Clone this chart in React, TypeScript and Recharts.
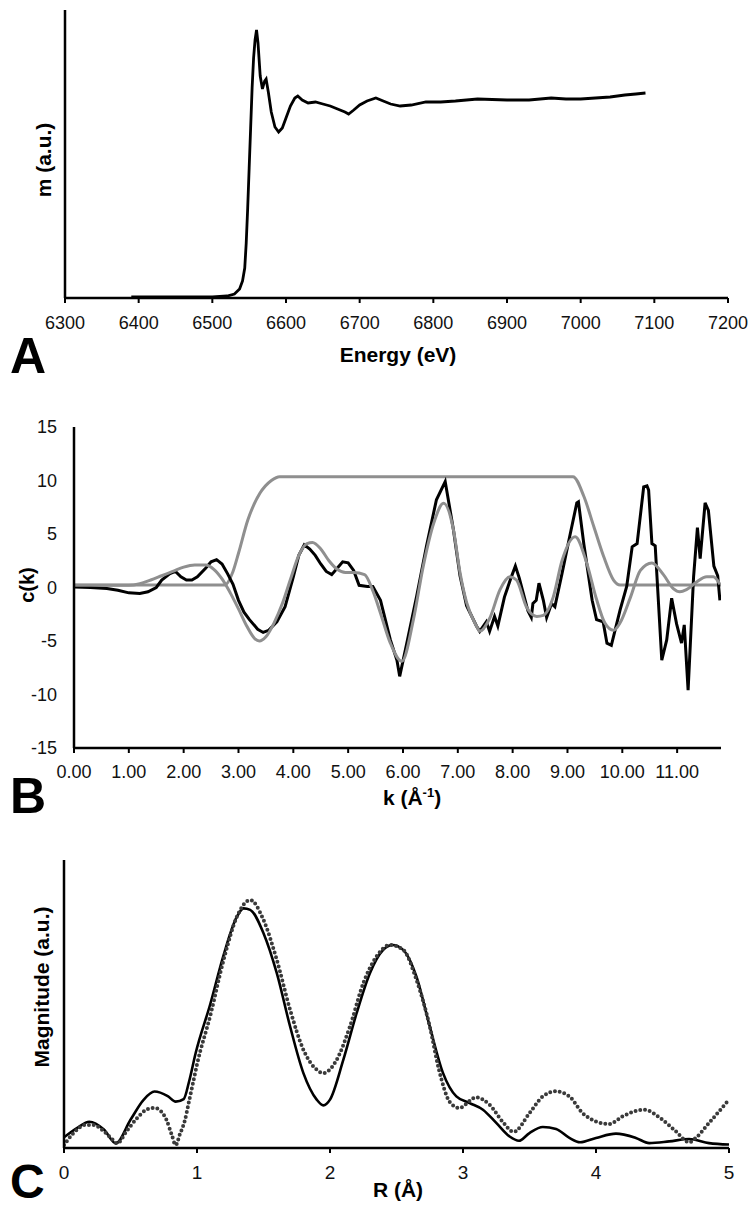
import React from 'react';
import { LineChart, Line, XAxis, YAxis } from 'recharts';

// ---------- Panel A: XANES / absorption ----------
const energyA = [6390, 6450, 6500, 6520, 6530, 6537, 6541, 6544, 6546, 6548, 6550, 6552, 6554, 6556, 6558, 6560, 6562, 6565, 6568, 6571, 6573, 6576, 6580, 6585, 6590, 6595, 6600, 6606, 6612, 6616, 6622, 6630, 6640, 6650, 6660, 6670, 6680, 6685, 6692, 6700, 6710, 6722, 6732, 6742, 6755, 6770, 6790, 6810, 6830, 6860, 6900, 6930, 6960, 6980, 7000, 7020, 7040, 7060, 7075, 7088];
const muA = [1, 1, 1, 2, 4, 9, 17, 30, 55, 90, 130, 170, 210, 240, 258, 268, 255, 222, 209, 217, 219, 206, 186, 171, 166, 170, 180, 192, 200, 202, 198, 195, 196, 194, 192, 189, 186, 184, 188, 193, 197, 200, 197, 194, 192, 193, 196, 196, 197, 199, 198, 198, 200, 199, 199, 200, 201, 203, 204, 205];
const energyTicks = [6300, 6400, 6500, 6600, 6700, 6800, 6900, 7000, 7100, 7200];

// ---------- Panel B: chi(k) ----------
const kExp = [0, 0.3, 0.6, 0.8, 1.0, 1.2, 1.35, 1.5, 1.6, 1.75, 1.85, 1.95, 2.05, 2.15, 2.25, 2.4, 2.5, 2.6, 2.7, 2.8, 2.9, 3.0, 3.1, 3.2, 3.35, 3.45, 3.55, 3.7, 3.85, 4.0, 4.1, 4.2, 4.3, 4.4, 4.5, 4.6, 4.7, 4.8, 4.9, 5.0, 5.1, 5.2, 5.35, 5.45, 5.59, 5.77, 5.89, 5.94, 6.07, 6.25, 6.43, 6.61, 6.77, 6.92, 7.04, 7.16, 7.34, 7.4, 7.52, 7.58, 7.67, 7.73, 7.85, 7.97, 8.05, 8.12, 8.28, 8.34, 8.37, 8.43, 8.48, 8.56, 8.62, 8.71, 8.77, 8.9, 9.05, 9.17, 9.2, 9.3, 9.45, 9.53, 9.65, 9.72, 9.8, 9.96, 10.08, 10.18, 10.27, 10.39, 10.45, 10.48, 10.54, 10.6, 10.72, 10.81, 10.9, 10.99, 11.08, 11.13, 11.2, 11.3, 11.37, 11.42, 11.51, 11.57, 11.67, 11.74, 11.78];
const chiExp = [0.05, 0.0, -0.1, -0.25, -0.5, -0.55, -0.4, 0.0, 0.7, 1.3, 1.5, 1.0, 0.7, 0.7, 1.0, 1.8, 2.4, 2.6, 2.2, 1.3, 0.3, -1.2, -2.3, -3.0, -3.9, -4.2, -4.0, -3.2, -1.8, 1.0, 3.0, 4.0, 3.6, 3.0, 2.2, 1.5, 1.2, 1.8, 2.4, 2.3, 1.6, 0.2, 0.1, 0.1, -1.2, -4.9, -6.8, -8.3, -5.2, -0.8, 3.9, 8.2, 9.9, 5.4, 1.1, -1.7, -3.6, -4.1, -3.2, -4.1, -2.7, -3.6, -0.9, 0.9, 2.0, 0.9, -2.2, -2.8, -1.5, -1.2, 0.4, -1.2, -2.8, -1.5, -1.8, 1.3, 5.0, 7.9, 8.0, 4.0, -1.2, -3.0, -3.2, -5.2, -5.4, -2.1, 0.1, 3.8, 4.1, 9.4, 9.5, 9.1, 4.1, 3.9, -6.8, -4.9, -1.0, -3.4, -5.2, -3.5, -9.6, 1.0, 5.6, 2.7, 7.9, 7.2, 2.0, 1.1, -1.2];
const kFit = [0, 0.5, 1.0, 1.2, 1.4, 1.6, 1.8, 2.0, 2.2, 2.4, 2.55, 2.7, 2.85, 3.0, 3.15, 3.3, 3.38, 3.5, 3.65, 3.8, 3.95, 4.1, 4.25, 4.35, 4.5, 4.65, 4.8, 4.95, 5.1, 5.3, 5.45, 5.59, 5.77, 5.98, 6.19, 6.37, 6.56, 6.74, 6.92, 7.04, 7.16, 7.34, 7.4, 7.58, 7.77, 7.95, 8.07, 8.25, 8.44, 8.56, 8.74, 8.9, 9.14, 9.35, 9.53, 9.68, 9.84, 9.96, 10.15, 10.33, 10.54, 10.75, 10.93, 11.05, 11.17, 11.35, 11.54, 11.66, 11.78];
const chiFit = [0.2, 0.2, 0.2, 0.35, 0.7, 1.1, 1.5, 1.9, 2.1, 2.1, 1.7, 0.8, -0.5, -2.0, -3.6, -4.8, -5.0, -4.6, -3.3, -1.5, 0.8, 3.0, 4.1, 4.2, 3.6, 2.5, 1.7, 1.4, 1.4, 1.2, -0.3, -2.4, -5.2, -6.9, -3.0, 2.0, 6.0, 7.87, 5.4, 1.4, -1.4, -3.6, -4.1, -2.9, -0.2, 1.0, 0.7, -1.8, -2.7, -2.6, -0.9, 2.5, 4.75, 2.3, -1.1, -3.3, -4.0, -3.3, -0.9, 1.6, 2.3, 1.2, -0.1, -0.4, -0.2, 0.5, 1.0, 1.0, 0.3];
const kWin = [0, 2.75, 2.9, 3.0, 3.17, 3.39, 3.6, 3.75, 9.1, 9.3, 9.48, 9.66, 9.84, 9.96, 11.8];
const winB = [0.23, 0.23, 1.5, 3.2, 6.3, 8.8, 10.0, 10.36, 10.36, 8.5, 5.7, 2.9, 0.7, 0.23, 0.23];
const kTicks = [0, 1, 2, 3, 4, 5, 6, 7, 8, 9, 10, 11];
const chiTicks = [-15, -10, -5, 0, 5, 10, 15];

// ---------- Panel C: Fourier transform magnitude ----------
const rExp = [0, 0.1, 0.19, 0.3, 0.39, 0.5, 0.6, 0.68, 0.78, 0.84, 0.9, 0.94, 0.99, 1.1, 1.2, 1.3, 1.35, 1.4, 1.5, 1.6, 1.7, 1.8, 1.9, 1.95, 2.0, 2.1, 2.2, 2.3, 2.4, 2.47, 2.55, 2.65, 2.75, 2.85, 2.95, 3.05, 3.15, 3.25, 3.35, 3.42, 3.5, 3.6, 3.7, 3.8, 3.88, 4.0, 4.15, 4.3, 4.4, 4.55, 4.7, 4.85, 5.0];
const magExp = [3.7, 7.0, 9.1, 6.4, 1.6, 9.8, 16.8, 19.6, 18.0, 16.1, 17.0, 23.0, 33.0, 50.0, 67.0, 80.3, 83.2, 82.7, 74.6, 60.7, 42.2, 26.0, 16.8, 14.8, 16.8, 30.6, 46.8, 60.7, 68.8, 70.5, 68.8, 59.5, 42.2, 26.0, 17.9, 15.6, 13.3, 8.7, 4.0, 2.5, 5.2, 7.3, 6.6, 3.5, 2.0, 3.5, 5.0, 3.5, 1.7, 2.3, 3.1, 1.7, 1.2];
const rFit = [0, 0.07, 0.16, 0.22, 0.3, 0.37, 0.4, 0.47, 0.55, 0.62, 0.68, 0.73, 0.77, 0.81, 0.84, 0.87, 0.91, 0.94, 0.97, 1.0, 1.1, 1.2, 1.3, 1.4, 1.5, 1.6, 1.7, 1.8, 1.9, 1.95, 2.05, 2.15, 2.25, 2.35, 2.45, 2.55, 2.65, 2.75, 2.82, 2.9, 2.97, 3.1, 3.2, 3.3, 3.38, 3.5, 3.6, 3.7, 3.8, 3.9, 4.0, 4.1, 4.2, 4.36, 4.5, 4.6, 4.7, 4.75, 4.85, 5.0];
const magFit = [1.0, 5.1, 8.0, 8.0, 5.8, 2.7, 1.6, 5.8, 10.4, 13.3, 13.9, 12.7, 9.8, 4.6, 1.0, 4.6, 9.8, 16.2, 22.6, 29.0, 46.0, 65.3, 80.3, 86.1, 79.2, 65.3, 48.0, 34.1, 27.2, 26.0, 30.6, 42.2, 57.2, 66.5, 70.5, 68.8, 58.4, 42.2, 27.0, 16.0, 13.9, 17.6, 15.0, 9.0, 5.6, 12.1, 17.9, 19.7, 17.9, 12.1, 9.2, 8.3, 11.0, 13.3, 9.8, 5.8, 2.0, 3.5, 8.7, 16.8];
const rTicks = [0, 1, 2, 3, 4, 5];

const toPts = (xs: number[], ys: number[]) => xs.map((x, i) => ({ x, y: ys[i] }));

const dataA = toPts(energyA, muA);
const dataExp = toPts(kExp, chiExp);
const dataFit = toPts(kFit, chiFit);
const dataWin = toPts(kWin, winB);
const dataRExp = toPts(rExp, magExp);
const dataRFit = toPts(rFit, magFit);

const FONT = "'Liberation Sans', Arial, Helvetica, sans-serif";
const tickStyle = { fontSize: 18, fill: '#111', fontFamily: FONT };
const axisLine = { stroke: '#000', strokeWidth: 2.5 };
const tickLine = { stroke: '#000', strokeWidth: 2 };
const GRAY = '#8f8f8f';

export default function App() {
  return (
    <div style={{ position: 'absolute', left: 0, top: 0, width: 749, height: 1210, background: '#fff', overflow: 'hidden' }}>
      {/* Panel A */}
      <div style={{ position: 'absolute', left: 0, top: 0 }}>
        <LineChart width={749} height={345} margin={{ top: 10, right: 21, bottom: 0, left: 0 }}>
          <XAxis type="number" dataKey="x" domain={[6300, 7200]} ticks={energyTicks} interval={0} allowDataOverflow
            tick={tickStyle} tickSize={5} tickMargin={13} height={47} axisLine={axisLine} tickLine={tickLine} />
          <YAxis type="number" domain={[0, 288]} width={65} tick={false} tickLine={false} axisLine={axisLine} />
          <Line data={dataA} dataKey="y" type="linear" stroke="#000" strokeWidth={2.8} dot={false} isAnimationActive={false} />
        </LineChart>
      </div>

      {/* Panel B */}
      <div style={{ position: 'absolute', left: 0, top: 400 }}>
        <LineChart width={749} height={400} margin={{ top: 27, right: 28, bottom: 0, left: 0 }}>
          <XAxis type="number" dataKey="x" domain={[0, 11.8]} ticks={kTicks} interval={0} allowDataOverflow
            tickFormatter={(v: number) => v.toFixed(2)}
            tick={tickStyle} tickSize={5} tickMargin={12} height={52} axisLine={axisLine} tickLine={tickLine} />
          <YAxis type="number" domain={[-15, 15]} ticks={chiTicks} interval={0} width={74}
            tick={tickStyle} tickSize={0} tickMargin={17} tickLine={false} axisLine={axisLine} />
          <Line data={dataWin} dataKey="y" type="monotone" stroke={GRAY} strokeWidth={3} dot={false} isAnimationActive={false} />
          <Line data={dataExp} dataKey="y" type="linear" stroke="#000" strokeWidth={3} dot={false} isAnimationActive={false} />
          <Line data={dataFit} dataKey="y" type="monotone" stroke={GRAY} strokeWidth={3} dot={false} isAnimationActive={false} />
        </LineChart>
      </div>

      {/* Panel C */}
      <div style={{ position: 'absolute', left: 0, top: 850 }}>
        <LineChart width={749} height={345} margin={{ top: 10, right: 20, bottom: 0, left: 0 }}>
          <XAxis type="number" dataKey="x" domain={[0, 5]} ticks={rTicks} interval={0} allowDataOverflow
            tick={{ ...tickStyle, fontSize: 19 }} tickSize={5} tickMargin={13} height={47} axisLine={axisLine} tickLine={tickLine} />
          <YAxis type="number" domain={[0, 100]} width={64} tick={false} tickLine={false} axisLine={axisLine} />
          <Line data={dataRExp} dataKey="y" type="monotone" stroke="#000" strokeWidth={2.6} dot={false} isAnimationActive={false} />
          <Line data={dataRFit} dataKey="y" type="monotone" stroke="#3a3a3a" strokeWidth={4} strokeDasharray="0 4.8"
            strokeLinecap="round" dot={false} isAnimationActive={false} />
        </LineChart>
      </div>

      {/* Titles and panel letters */}
      <svg width={749} height={1210} style={{ position: 'absolute', left: 0, top: 0, pointerEvents: 'none' }} fontFamily={FONT} fill="#000">
        <text x={10} y={373} fontSize={50} fontWeight="bold">A</text>
        <text x={398} y={362} fontSize={21} fontWeight="bold" textAnchor="middle">Energy (eV)</text>
        <text transform="translate(51,160) rotate(-90)" fontSize={21} fontWeight="bold" textAnchor="middle">m (a.u.)</text>

        <text x={10} y={813} fontSize={50} fontWeight="bold">B</text>
        <text x={412} y={805} fontSize={21} fontWeight="bold" textAnchor="middle">
          k (Å<tspan dy={-8} fontSize={13}>-1</tspan><tspan dy={8}>)</tspan>
        </text>
        <text transform="translate(34,585) rotate(-90)" fontSize={20} fontWeight="bold" textAnchor="middle">c(k)</text>

        <text x={10} y={1198} fontSize={48} fontWeight="bold">C</text>
        <text x={398} y={1197} fontSize={21} fontWeight="bold" textAnchor="middle">R (Å)</text>
        <text transform="translate(49,987) rotate(-90)" fontSize={21} fontWeight="bold" textAnchor="middle">Magnitude (a.u.)</text>
      </svg>
    </div>
  );
}
